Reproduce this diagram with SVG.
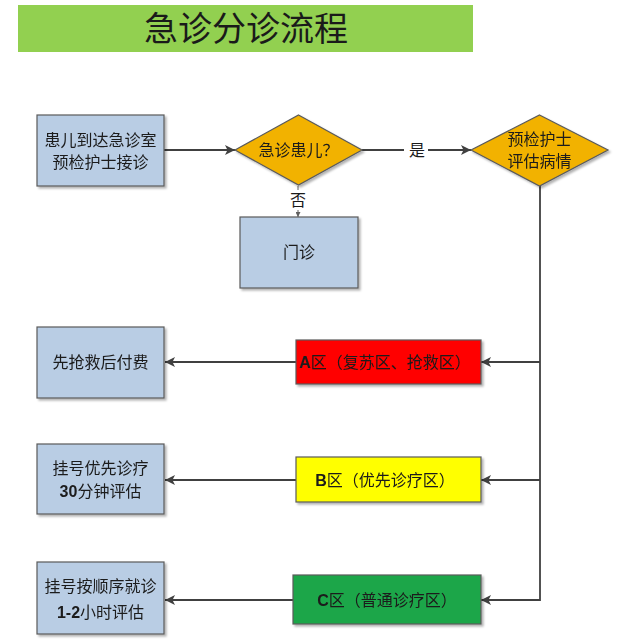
<svg xmlns="http://www.w3.org/2000/svg" width="641" height="642" viewBox="0 0 641 642">
<style>
text{font-family:"Noto Sans CJK SC","Noto Sans",sans-serif;fill:#1a1a1a;text-anchor:middle}
.t{font-size:16px}
.b{font-weight:bold;font-family:"Liberation Sans","Noto Sans CJK SC",sans-serif}
.box{fill:#b9cde4;stroke:#5a5a5a;stroke-width:1.2}
.dia{fill:#f2b200;stroke:#5a5a5a;stroke-width:1.2}
.con{fill:none;stroke:#404040;stroke-width:1.8}
</style>
<defs>
<filter id="sh" x="-10%" y="-10%" width="130%" height="130%">
<feDropShadow dx="2" dy="2" stdDeviation="1.2" flood-color="#000" flood-opacity="0.3"/>
</filter>
<marker id="ar" viewBox="0 0 10 10" refX="10" refY="5" markerWidth="10" markerHeight="10" markerUnits="userSpaceOnUse" orient="auto">
<path d="M0,0 L10,5 L0,10 L2.5,5 Z" fill="#404040"/>
</marker>
<marker id="sm" viewBox="0 0 10 10" refX="10" refY="5" markerWidth="5" markerHeight="5" markerUnits="userSpaceOnUse" orient="auto">
<path d="M0,0 L10,5 L0,10 Z" fill="#606060"/>
</marker>
</defs>
<rect width="641" height="642" fill="#fff"/>
<g id="title">
<rect x="18" y="5" width="455" height="47" fill="#92d050"/>
<text x="246" y="41" style="font-size:34px">急诊分诊流程</text>
</g>
<g id="connectors">
<line class="con" x1="164" y1="150" x2="235" y2="150" marker-end="url(#ar)"/>
<line class="con" x1="362" y1="150" x2="404" y2="150"/>
<line class="con" x1="428" y1="150" x2="471" y2="150" marker-end="url(#ar)"/>
<text class="t" x="417" y="156">是</text>
<line x1="298" y1="186" x2="298" y2="190" stroke="#606060" stroke-width="1"/>
<line x1="298" y1="210" x2="298" y2="217" stroke="#606060" stroke-width="1" marker-end="url(#sm)"/>
<text class="t" x="298" y="206">否</text>
<polyline class="con" points="540,186 540,600 481,600" marker-end="url(#ar)"/>
<line class="con" x1="540" y1="362" x2="481" y2="362" marker-end="url(#ar)"/>
<line class="con" x1="540" y1="480" x2="481" y2="480" marker-end="url(#ar)"/>
<line class="con" x1="296" y1="362" x2="165" y2="362" marker-end="url(#ar)"/>
<line class="con" x1="296" y1="480" x2="165" y2="480" marker-end="url(#ar)"/>
<line class="con" x1="293" y1="600" x2="165" y2="600" marker-end="url(#ar)"/>
</g>
<g id="n1" filter="url(#sh)">
<rect class="box" x="37" y="115" width="127" height="71"/>
<text class="t" x="100.5" y="146">患儿到达急诊室</text>
<text class="t" x="100.5" y="168">预检护士接诊</text>
</g>
<g id="n2" filter="url(#sh)">
<polygon class="dia" points="298.5,115 362,150 298.5,185 235,150"/>
<text class="t" x="298.5" y="156">急诊患儿？</text>
</g>
<g id="n3" filter="url(#sh)">
<polygon class="dia" points="539.5,115 608,150 539.5,186 471,150"/>
<text class="t" x="539.5" y="145">预检护士</text>
<text class="t" x="539.5" y="167">评估病情</text>
</g>
<g id="n4" filter="url(#sh)">
<rect class="box" x="240" y="217" width="118" height="71"/>
<text class="t" x="299" y="258">门诊</text>
</g>
<g id="n5" filter="url(#sh)">
<rect class="box" x="37" y="327" width="127" height="71"/>
<text class="t" x="100.5" y="368">先抢救后付费</text>
</g>
<g id="n6" filter="url(#sh)">
<rect x="296" y="340" width="185" height="44" fill="#ff0000" stroke="#5a5a5a" stroke-width="1.2"/>
<text class="t" x="385" y="368"><tspan class="b">A</tspan>区（复苏区、抢救区）</text>
</g>
<g id="n7" filter="url(#sh)">
<rect class="box" x="37" y="444" width="127" height="70"/>
<text class="t" x="100.5" y="474">挂号优先诊疗</text>
<text class="t" x="100.5" y="497"><tspan class="b">30</tspan>分钟评估</text>
</g>
<g id="n8" filter="url(#sh)">
<rect x="296" y="457" width="185" height="45" fill="#ffff00" stroke="#5a5a5a" stroke-width="1.2"/>
<text class="t" x="385" y="486"><tspan class="b">B</tspan>区（优先诊疗区）</text>
</g>
<g id="n9" filter="url(#sh)">
<rect class="box" x="37" y="562" width="127" height="72"/>
<text class="t" x="100.5" y="592">挂号按顺序就诊</text>
<text class="t" x="100.5" y="618"><tspan class="b">1-2</tspan>小时评估</text>
</g>
<g id="n10" filter="url(#sh)">
<rect x="293" y="575" width="188" height="49" fill="#1fa64a" stroke="#5a5a5a" stroke-width="1.2"/>
<text class="t" x="387" y="606"><tspan class="b">C</tspan>区（普通诊疗区）</text>
</g>
</svg>
